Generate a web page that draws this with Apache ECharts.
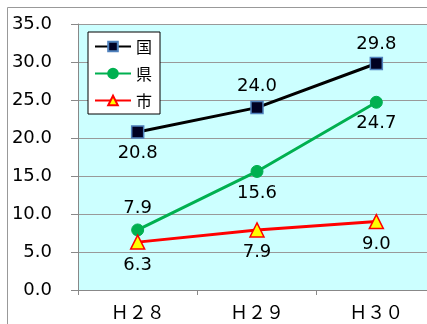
<!DOCTYPE html>
<html>
<head>
<meta charset="utf-8">
<script src="https://cdn.jsdelivr.net/npm/echarts@6/dist/echarts.min.js"></script>
<style>
html,body{margin:0;padding:0;background:#fff;overflow:hidden;}
#chart{width:440px;height:330px;}
</style>
</head>
<body>
<div id="chart"></div>
<script>
// Categories (fiscal years) and values per area
var categories = ['Ｈ２８', 'Ｈ２９', 'Ｈ３０'];
var kuni = [20.8, 24.0, 29.8];   // 国
var ken = [7.9, 15.6, 24.7];     // 県
var shi = [6.3, 7.9, 9.0];       // 市
var labelPosKuni = ['bottom', 'top', 'top'];
var labelPosKen = ['top', 'bottom', 'bottom'];
var labelPosShi = ['bottom', 'bottom', 'bottom'];

var numFont = 'DejaVu Sans';
var cjkFont = '"Noto Sans CJK JP"';

function withLabels(values, positions, dist) {
  return values.map(function (v, i) {
    return {
      value: v,
      label: { position: positions[i], distance: dist ? dist[i] : 6 }
    };
  });
}

var chart = echarts.init(document.getElementById('chart'), null, { renderer: 'canvas' });

var labelStyle = {
  show: true,
  fontFamily: numFont,
  fontSize: 18,
  color: '#000',
  formatter: function (p) { return p.value.toFixed(1); }
};

chart.setOption({
  animation: false,
  graphic: [{
    type: 'rect',
    shape: { x: 7.5, y: 7.5, width: 500, height: 500 },
    style: { fill: 'none', stroke: '#999', lineWidth: 1 },
    z: -10
  }],
  grid: {
    left: 78, top: 24, width: 358, height: 266,
    show: true, backgroundColor: '#ccffff', borderWidth: 0
  },
  legend: {
    orient: 'vertical',
    left: 88, top: 32,
    padding: [6, 8, 5, 6],
    itemGap: 10,
    itemWidth: 36,
    itemHeight: 12,
    backgroundColor: '#fff',
    borderColor: '#000',
    borderWidth: 1,
    borderRadius: 0,
    textStyle: { fontFamily: cjkFont, fontSize: 16, color: '#000', lineHeight: 17 },
    data: ['国', '県', '市']
  },
  xAxis: {
    type: 'category',
    data: categories,
    boundaryGap: true,
    axisLine: { lineStyle: { color: '#888', width: 1 } },
    axisTick: { show: true, length: 5, lineStyle: { color: '#888' } },
    axisLabel: { fontFamily: cjkFont, fontSize: 18, color: '#000', margin: 13 },
    splitLine: { show: false }
  },
  yAxis: {
    type: 'value',
    min: 0, max: 35, interval: 5,
    axisLine: { show: true, lineStyle: { color: '#888', width: 1 } },
    axisTick: { show: true, inside: false, length: 7, lineStyle: { color: '#888' } },
    axisLabel: {
      fontFamily: numFont, fontSize: 18, color: '#000', margin: 26,
      formatter: function (v) { return v.toFixed(1); }
    },
    splitLine: { show: true, lineStyle: { color: '#999', width: 1 } }
  },
  series: [
    {
      name: '国', type: 'line',
      data: withLabels(kuni, labelPosKuni, [6, 6, 3]),
      lineStyle: { color: '#000', width: 3 },
      itemStyle: { color: '#000022', borderColor: '#4f81bd', borderWidth: 1.5 },
      symbol: 'rect', symbolSize: 12,
      label: labelStyle,
      z: 3
    },
    {
      name: '県', type: 'line',
      data: withLabels(ken, labelPosKen),
      lineStyle: { color: '#00b050', width: 3 },
      itemStyle: { color: '#00b050', borderColor: '#00b050', borderWidth: 1 },
      symbol: 'circle', symbolSize: 12,
      label: labelStyle,
      z: 2
    },
    {
      name: '市', type: 'line',
      data: withLabels(shi, labelPosShi),
      lineStyle: { color: '#ff0000', width: 3 },
      itemStyle: { color: '#ffff00', borderColor: '#ff0000', borderWidth: 1.5 },
      symbol: 'triangle', symbolSize: 14,
      label: labelStyle,
      z: 2
    }
  ]
});
</script>
</body>
</html>
